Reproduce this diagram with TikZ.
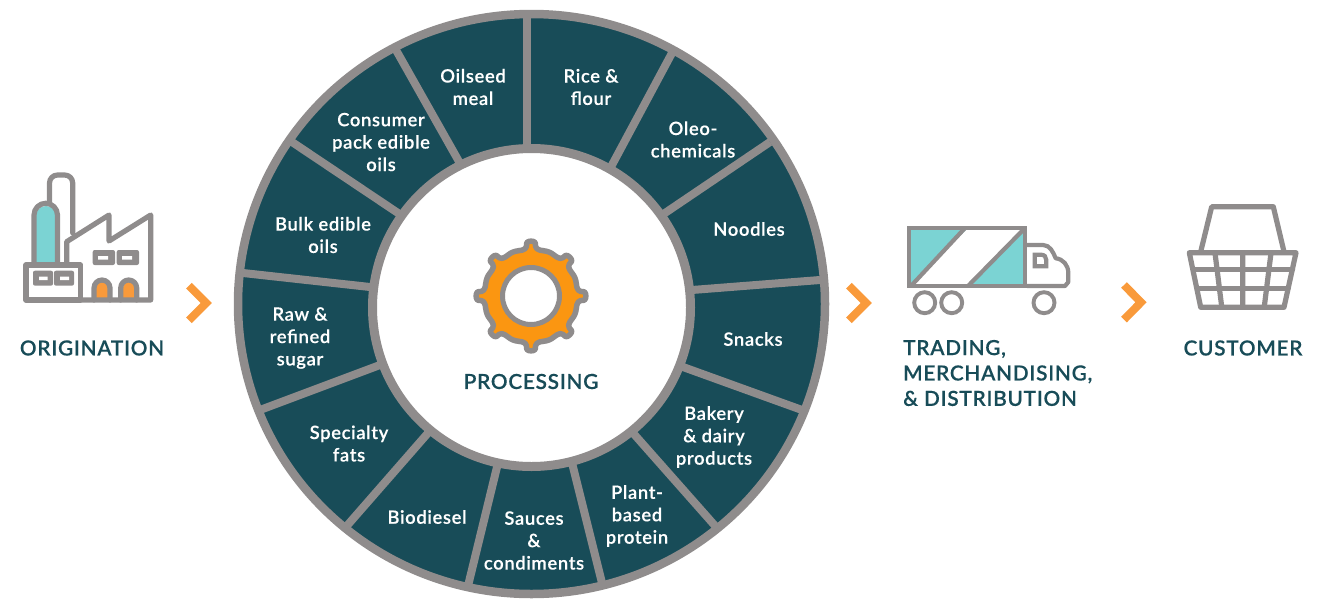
\documentclass[tikz,border=0pt]{standalone}
\usepackage{fontspec}
\setmainfont[LetterSpace=3.5,FakeBold=0.2]{Lato Semibold}
\usetikzlibrary{calc}
\definecolor{ringteal}{HTML}{184C58}
\definecolor{ringgrey}{HTML}{8F8C8C}
\definecolor{iconteal}{HTML}{7BD3D3}
\definecolor{iconorange}{HTML}{F99A3B}
\definecolor{gearorange}{HTML}{FB9611}
\tikzset{
  seglabel/.style={text=white,font=\fontsize{18.4}{22.4}\selectfont,align=center,inner sep=0pt},
  headlabel/.style={text=ringteal,font=\fontsize{20.8}{25.4}\selectfont,inner sep=0pt},
  chev/.style={draw=iconorange,line width=8pt,miter limit=10},
  icon/.style={draw=ringgrey,line width=5.2pt,line join=round,line cap=round},
  truckline/.style={draw=ringgrey,line width=4.2pt},
  wheel/.style={draw=ringgrey,line width=3.9pt,fill=white},
  spoke/.style={draw=ringgrey,line width=8pt},
}
\begin{document}
\begin{tikzpicture}[x=1pt,y=-1pt]
\useasboundingbox (0,0) rectangle (1331,600);
\fill[ringteal] (531.5,304) ellipse[x radius=295,y radius=292];
\foreach \xa/\ya/\xb/\yb in {527/15/527/148, 672/53/612/165, 770/142/665/213, 820/280/692/290, 802/410/683/367, 717/528/633/433, 603/587/573/467, 467/590/497/467, 345/528/428/433, 260/410/380/365, 243/273/370/287, 292/142/398/213, 396/50/457/158}{
  \draw[spoke] (\xa,\ya) -- ($(\xb,\yb)!-9pt!(\xa,\ya)$);
}
\draw[ringgrey,line width=8.5pt] (531.5,304) ellipse[x radius=293.5,y radius=290];
\fill[white,draw=ringgrey,line width=9pt] (531.5,307.5) circle[radius=159];
\node[seglabel] (s1) at (473,87) {Oilseed\\meal};
\node[seglabel] (s2) at (591,87) {Rice \&\\flour};
\node[seglabel] (s3) at (693,139.5) {Oleo-\\chemicals};
\node[seglabel] (s4) at (749,229) {Noodles};
\node[seglabel] (s5) at (753,339) {Snacks};
\node[seglabel] (s6) at (714,437) {Bakery\\\& dairy\\products};
\node[seglabel] (s7) at (637,516) {Plant-\\based\\protein};
\node[seglabel] (s8) at (534,540.5) {Sauces\\\&\\condiments};
\node[seglabel] (s9) at (427,517) {Biodiesel};
\node[seglabel] (s10) at (349,443.5) {Specialty\\fats};
\node[seglabel] (s11) at (300,338) {Raw \&\\refined\\sugar};
\node[seglabel] (s12) at (323,235) {Bulk edible\\oils};
\node[seglabel] (s13) at (381,142) {Consumer\\pack edible\\oils};
% gear
\begin{scope}[shift={(531,296)}]
  \filldraw[fill=gearorange,draw=ringgrey,line width=5.5pt,line join=round]
    (-16:47)
    \foreach \a in {0,45,...,315}{
      .. controls ({\a-8}:46.5) and ({\a-5}:47) .. ({\a-4.5}:53.5)
      .. controls ({\a-3}:55.5) and ({\a+3}:55.5) .. ({\a+4.5}:53.5)
      .. controls ({\a+5}:47) and ({\a+8}:46.5) .. ({\a+16}:47)
      .. controls ({\a+20}:47.8) and ({\a+25}:47.8) .. ({\a+29}:47)
    } -- cycle;
  \fill[white,draw=ringgrey,line width=5pt] (0,0) circle[radius=28.5];
\end{scope}
\node[headlabel] (proc) at (531,381.5) {PROCESSING};
\node[headlabel] (orig) at (92,348) {ORIGINATION};
\node[headlabel,align=left,anchor=west] (trade) at (903,373) {TRADING,\\MERCHANDISING,\\\& DISTRIBUTION};
\node[headlabel] (cust) at (1243,348) {CUSTOMER};
% chevrons
\draw[chev] (189,285.7) -- (206.3,303) -- (189,320.3);
\draw[chev] (849,285.7) -- (866.3,303) -- (849,320.3);
\draw[chev] (1124,285) -- (1141,302.3) -- (1124,319.6);
% factory
\fill[iconteal] (36,262) -- (36,216) arc[start angle=180,end angle=360,radius=10] -- (56,262) -- cycle;
\fill[iconorange] (96,298) -- (96,288) arc[start angle=180,end angle=360,radius=6] -- (108,298) -- cycle;
\fill[iconorange] (123,298) -- (123,288) arc[start angle=180,end angle=360,radius=6] -- (135,298) -- cycle;
\draw[icon] (34,262) -- (34,215) arc[start angle=180,end angle=360,radius=11.75] -- (57.5,262);
\draw[icon] (49.5,202) -- (49.5,183) arc[start angle=180,end angle=270,radius=8] -- (64.7,175) arc[start angle=270,end angle=360,radius=8] -- (72.7,233);
\draw[icon] (26,265) rectangle (80.7,300);
\draw[icon] (66.7,262) -- (66.7,241.7) -- (109,215) -- (109,241) -- (150.7,215) -- (150.7,300) -- (80.7,300);
\fill[ringgrey,rounded corners=2pt] (33,270.7) rectangle (53,285.7);
\fill[ringgrey,rounded corners=2pt] (54,270.7) rectangle (74,285.7);
\fill[white] (39,276.7) rectangle (47.7,280) (60,276.7) rectangle (69,280);
\fill[ringgrey,rounded corners=2pt] (92.7,250) rectangle (115,265);
\fill[ringgrey,rounded corners=2pt] (116.7,250) rectangle (139,265);
\fill[white] (98,256) rectangle (108,259.5) (122,256) rectangle (132,259.5);
\draw[icon] (94,300) -- (94,288) arc[start angle=180,end angle=360,radius=8] -- (110,300);
\draw[icon] (120.7,300) -- (120.7,288) arc[start angle=180,end angle=360,radius=8] -- (136.7,300);
% truck
\fill[iconteal] (909,228) -- (968,228) -- (909,286) -- cycle;
\fill[iconteal] (1025,228) -- (1025,286) -- (968,286) -- cycle;
\draw[truckline,line join=miter] (909.3,228) rectangle (1025.3,286.3);
\draw[truckline] (911,286) -- (965,228) (968,286) -- (1025,228);
\draw[truckline,line join=round] (1027,245) -- (1043,245) .. controls (1050,245) and (1053,252) .. (1055.7,258.3) .. controls (1063,259) and (1068.3,265) .. (1068.3,273) -- (1068.3,282) -- (1065,286) -- (1027,286);
\draw[truckline] (1034.7,254.7) -- (1041,254.7) .. controls (1044.5,254.7) and (1046.3,257) .. (1046.3,260) -- (1046.3,266.3) -- (1034.7,266.3) -- cycle;
\draw[wheel] (924.7,302.7) circle[radius=10.5];
\draw[wheel] (951.7,302.7) circle[radius=10.5];
\draw[wheel] (1044,302.7) circle[radius=10.5];
% basket
\draw[icon] (1200.7,251.7) -- (1211.7,206.7) -- (1273.3,206.7) -- (1284,251.7);
\draw[icon] (1189.3,252.7) -- (1296,252.7) -- (1284,307.3) -- (1200.7,307.3) -- cycle;
\draw[icon] (1193.5,269.3) -- (1292.5,269.3) (1197.5,288.3) -- (1288,288.3);
\draw[icon] (1215,253) -- (1221.7,306.7) (1242.7,253) -- (1242.7,306.7) (1271,253) -- (1264.3,306.7);
\end{tikzpicture}
\end{document}
